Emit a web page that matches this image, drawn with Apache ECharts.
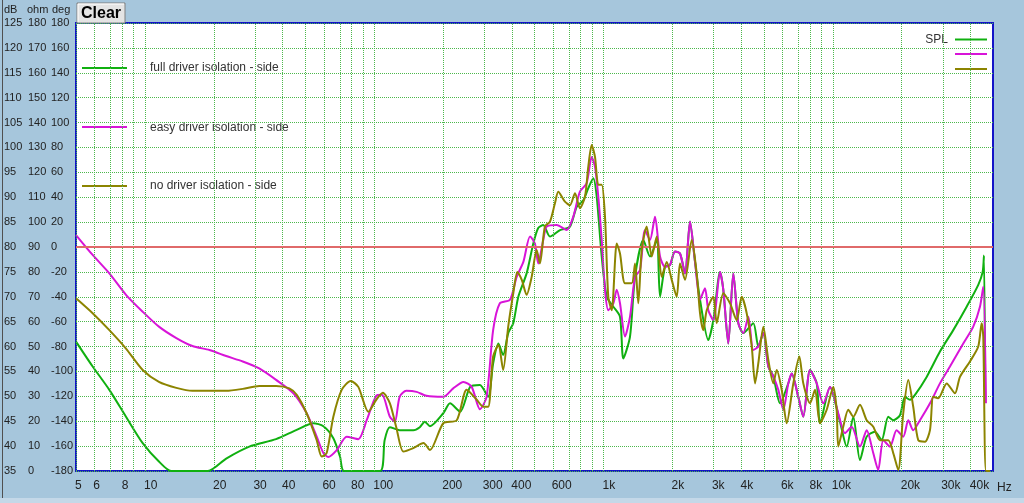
<!DOCTYPE html>
<html>
<head>
<meta charset="utf-8">
<script src="https://cdn.jsdelivr.net/npm/echarts@6/dist/echarts.min.js"></script>
<style>
html,body{margin:0;padding:0;background:#a6c6dc;}
#chart{width:1024px;height:503px;}
</style>
</head>
<body>
<div id="chart"></div>
<script>
// ---- tick labels / grid ----
const xLabelFreqs = [5,6,8,10,20,30,40,60,80,100,200,300,400,600,1000,2000,3000,4000,6000,8000,10000,20000,30000,40000];
const xGridFreqs = [5,6,7,8,9,10,20,30,40,50,60,70,80,90,100,200,300,400,500,600,700,800,900,1000,2000,3000,4000,5000,6000,7000,8000,9000,10000,20000,30000,40000];
const seriesNames = ['full driver isolation - side','easy driver isolation - side','no driver isolation - side'];

// ---- full driver isolation (green) ----
const fullFreq = [5.0,5.91,6.99,8.26,9.77,11.5,13.0,18.8,22.6,28.5,37.3,45.6,54.2,60.0,66.3,70.9,73.8,106,111,117,129,148,158,166,175,200,214,237,262,289,314,330,348,365,384,404,425,462,494,519,546,584,646,714,764,816,858,902,934,982,1033,1104,1180,1220,1305,1372,1492,1595,1707,1764,1855,1950,2050,2156,2267,2384,2507,2636,2865,3013,3223,3331,3502,3682,3873,4072,4502,4733,4979,5235,5504,5888,6399,6621,7074,7439,7958,8511,8800,9728,10750,11500,12290,13140,14060,15280,16340,17460,18360,19640,20650,21710,22840,25680,29350,33540,38380,43120,45070,45660,46260];
const fullDb = [61.0,56.0,51.3,45.9,40.6,36.9,35,35,37.5,39.9,41.4,43.2,44.6,44.0,41.6,37.9,35,35,41.2,43.8,43.2,43.2,43.8,44.9,44.0,46.6,48.6,46.9,51.9,52.3,49.9,56.6,60.6,58.3,62.7,64.7,70.0,74.7,80.7,83.8,84.4,82.1,83.4,84.1,88.1,89.4,91.8,93.8,90.1,78.1,70.0,68.0,66.0,57.6,62.0,74.0,81.4,78.1,81.4,70.0,76.0,76.4,79.1,78.7,74.7,85.1,77.0,69.4,61.3,65.3,75.0,71.4,60.6,74.7,64.7,62.7,64.7,60.0,62.7,56.0,54.0,48.6,52.6,54.6,49.9,45.9,55.3,52.6,44.6,51.9,44.9,39.9,45.9,37.2,41.9,42.9,41.2,45.9,45.2,46.2,49.9,49.3,50.3,53.9,59.0,63.3,68.0,72.4,75.0,78.3,49.3];

// ---- easy driver isolation (magenta) ----
const easyFreq = [5.0,5.91,6.99,8.26,9.77,11.5,13.7,16.1,19.1,22.6,26.7,31.5,37.3,44.4,50.7,56.1,60.0,63.0,68.6,75.8,85.2,92.7,102,108,117,123,129,138,153,169,200,221,245,266,289,309,330,353,391,418,447,478,502,519,546,565,625,691,738,789,844,888,918,949,982,1015,1049,1104,1142,1180,1241,1305,1372,1443,1517,1595,1677,1764,1855,1950,2050,2156,2267,2384,2507,2636,2771,2865,3013,3223,3331,3502,3682,3873,4072,4281,4502,4733,4979,5235,5504,5788,6085,6399,6621,7074,7439,7958,8511,9096,9728,10570,11300,12090,13140,14060,15020,15790,16610,17760,18990,20300,21350,22440,24010,26550,29350,32450,37090,41010,43860,45340,46590];
const easyDb = [82.4,78.4,74.7,70.4,67.0,64.0,61.7,60.1,59.3,58.1,57.0,55.6,53.3,50.6,46.6,41.9,38.6,37.8,39.2,41.9,41.4,45.2,50.1,50.3,45.9,44.9,49.9,51.1,50.9,50.1,49.9,51.6,52.9,51.9,47.4,49.9,63.3,68.7,69.4,74.0,77.0,82.1,80.7,76.7,81.4,84.1,84.4,83.4,86.1,91.1,92.8,98.1,96.1,90.1,81.4,71.4,67.3,68.7,71.4,68.7,62.0,66.0,74.0,75.4,83.4,81.4,86.1,78.1,76.0,76.4,79.1,78.7,74.7,85.1,77.0,69.4,71.7,67.3,65.3,75.0,71.4,60.6,74.7,64.7,62.7,66.0,59.3,60.0,62.7,56.0,54.0,51.3,47.3,52.6,54.6,49.9,45.9,55.3,52.6,48.6,51.9,46.6,42.6,43.9,39.9,43.2,38.6,35.2,41.2,39.9,43.2,41.9,45.2,43.2,45.2,48.6,52.6,56.0,60.6,64.0,68.0,72.0,48.6];

// ---- no driver isolation (olive) ----
const noFreq = [5.0,5.91,6.99,8.26,9.77,11.5,13.7,16.1,19.1,22.6,26.7,31.5,37.3,42.6,45.9,50.7,56.1,59.0,62.0,66.3,72.1,78.9,85.2,94.2,102,109,117,125,134,148,164,175,200,229,253,280,299,314,330,348,365,384,404,421,440,462,486,511,528,555,584,614,635,679,714,751,789,830,858,888,918,949,982,1015,1049,1086,1142,1180,1241,1327,1372,1418,1468,1543,1623,1707,1794,1887,1984,2086,2156,2267,2425,2550,2636,2725,2819,3013,3117,3331,3563,3811,4007,4213,4432,4581,4733,4979,5235,5504,5695,5989,6297,6729,7147,7439,7958,8367,8800,9410,10050,10400,10570,11110,11690,12290,13140,14060,15020,16070,17460,18360,19310,20300,21350,22440,23600,25250,26550,27440,28850,31390,34120,35880,39670,43120,44620,45340,46590,48500];
const noDb = [69.7,66.7,63.3,59.6,55.3,52.9,51.7,51.1,51.1,51.1,51.5,52.1,52.1,51.6,50.3,46.6,41.2,37.9,38.6,45.9,51.3,53.1,51.9,46.9,49.3,50.7,48.6,43.6,38.9,39.6,40.6,39.2,44.6,45.2,51.3,49.3,47.9,47.9,58.0,60.3,55.3,64.0,70.7,75.0,73.4,70.4,74.0,79.4,76.7,84.1,85.1,88.8,91.1,89.1,88.4,90.8,87.8,90.1,96.1,100.5,98.1,92.5,92.5,86.1,70.0,67.3,80.7,78.7,72.7,72.7,76.7,68.7,79.4,84.1,78.1,82.1,74.0,77.0,73.4,70.0,76.7,73.4,81.4,74.7,66.7,63.3,67.3,70.0,64.7,70.7,68.7,65.3,70.0,66.7,60.0,52.6,56.6,64.0,57.3,52.6,55.3,51.3,44.6,52.6,58.0,52.6,48.6,51.3,44.6,47.3,51.9,47.3,39.9,43.9,47.3,45.9,48.3,45.2,43.9,41.2,41.2,38.6,35.2,46.6,53.3,47.9,41.2,40.9,43.2,49.9,49.6,52.6,50.6,53.9,57.0,60.0,64.7,62.0,35,35];

const toXY = (fs, ds) => fs.map((f, i) => [Math.log10(f), ds[i]]);
const fmtHz = v => { const f = Math.round(Math.pow(10, v)); return f >= 1000 ? (f / 1000) + 'k' : String(f); };

const chart = echarts.init(document.getElementById('chart'));
const FONT = 'Liberation Sans';
const gridColor = '#4cb84c';
const colors = ['#10b010', '#d814d8', '#8c8400'];

const yCommon = {
  type: 'value', position: 'left', offset: 0,
  axisLine: {show: false}, axisTick: {show: false},
  splitLine: {show: false}
};

const option = {
  backgroundColor: '#a6c6dc',
  animation: false,
  grid: {left: 76, right: 31, top: 23, bottom: 32, show: true, backgroundColor: '#ffffff', borderColor: '#1414c8', borderWidth: 2},
  xAxis: {
    type: 'value', min: Math.log10(5), max: Math.log10(50000),
    axisLine: {show: false}, axisTick: {show: false}, splitLine: {show: false},
    axisLabel: {customValues: xLabelFreqs.map(f => Math.log10(f)), formatter: fmtHz, align: 'left', margin: 9,
      fontFamily: FONT, fontSize: 12, color: '#222', padding: [0, 0, 0, -1]}
  },
  yAxis: [
    Object.assign({}, yCommon, {min: 35, max: 125, interval: 5,
      splitLine: {show: true, lineStyle: {color: gridColor, type: 'dotted', width: 1}},
      axisLabel: {align: 'left', margin: 72, fontFamily: FONT, fontSize: 11, color: '#222', padding: [0, 0, 4, 0]}}),
    Object.assign({}, yCommon, {min: 0, max: 180, interval: 10,
      axisLabel: {align: 'left', margin: 48, fontFamily: FONT, fontSize: 11, color: '#222', padding: [0, 0, 4, 0]}}),
    Object.assign({}, yCommon, {min: -180, max: 180, interval: 20,
      axisLabel: {align: 'left', margin: 25, fontFamily: FONT, fontSize: 11, color: '#222', padding: [0, 0, 4, 0]}})
  ],
  series: [
    {
      type: 'line', name: 'grid', data: [], silent: true, z: 1,
      markLine: {
        silent: true, symbol: 'none', animation: false, label: {show: false},
        data: xGridFreqs.map(f => ({xAxis: Math.log10(f), lineStyle: {color: gridColor, type: 'dotted', width: 1}}))
          .concat([{yAxis: 80, lineStyle: {color: '#e06a6a', type: 'solid', width: 2}}])
      }
    },
    {type: 'line', name: seriesNames[0], data: toXY(fullFreq, fullDb), showSymbol: false, z: 3, smooth: 0.25,
      lineStyle: {color: colors[0], width: 2}, itemStyle: {color: colors[0]}},
    {type: 'line', name: seriesNames[1], data: toXY(easyFreq, easyDb), showSymbol: false, z: 4, smooth: 0.25,
      lineStyle: {color: colors[1], width: 2}, itemStyle: {color: colors[1]}},
    {type: 'line', name: seriesNames[2], data: toXY(noFreq, noDb), showSymbol: false, z: 5, smooth: 0.25,
      lineStyle: {color: colors[2], width: 2}, itemStyle: {color: colors[2]}}
  ],
  graphic: [
    {type: 'rect', shape: {x: 2, y: 0, width: 1, height: 503}, style: {fill: '#505050'}, silent: true},
    {type: 'rect', shape: {x: 0, y: 498, width: 1024, height: 5}, style: {fill: '#c4d8e8'}, silent: true},
    {type: 'text', x: 4, y: 10, style: {text: 'dB', fontFamily: FONT, fontSize: 11, fill: '#222', verticalAlign: 'middle'}},
    {type: 'text', x: 27, y: 10, style: {text: 'ohm', fontFamily: FONT, fontSize: 11, fill: '#222', verticalAlign: 'middle'}},
    {type: 'text', x: 52, y: 10, style: {text: 'deg', fontFamily: FONT, fontSize: 11, fill: '#222', verticalAlign: 'middle'}},
    {type: 'rect', shape: {x: 77, y: 3, width: 48, height: 20}, style: {fill: '#e4e4e4', stroke: '#808080', lineWidth: 1}},
    {type: 'polyline', shape: {points: [[78, 22], [78, 4], [124, 4]]}, style: {stroke: '#ffffff', lineWidth: 1, fill: null}},
    {type: 'text', x: 101, y: 13.5, style: {text: 'Clear', fontFamily: FONT, fontSize: 16, fontWeight: 'bold', fill: '#000', align: 'center', verticalAlign: 'middle'}},
    {type: 'text', x: 997, y: 488, style: {text: 'Hz', fontFamily: FONT, fontSize: 12, fill: '#222', verticalAlign: 'middle'}},
    // left legend
    {type: 'line', shape: {x1: 82, y1: 68, x2: 127, y2: 68}, style: {stroke: colors[0], lineWidth: 2}},
    {type: 'text', x: 150, y: 68, style: {text: seriesNames[0], fontFamily: FONT, fontSize: 12, fill: '#333', verticalAlign: 'middle'}},
    {type: 'line', shape: {x1: 82, y1: 127, x2: 127, y2: 127}, style: {stroke: colors[1], lineWidth: 2}},
    {type: 'text', x: 150, y: 128, style: {text: seriesNames[1], fontFamily: FONT, fontSize: 12, fill: '#333', verticalAlign: 'middle'}},
    {type: 'line', shape: {x1: 82, y1: 186, x2: 127, y2: 186}, style: {stroke: colors[2], lineWidth: 2}},
    {type: 'text', x: 150, y: 186, style: {text: seriesNames[2], fontFamily: FONT, fontSize: 12, fill: '#333', verticalAlign: 'middle'}},
    // right legend
    {type: 'text', x: 948, y: 40, style: {text: 'SPL', fontFamily: FONT, fontSize: 12, fill: '#333', align: 'right', verticalAlign: 'middle'}},
    {type: 'line', shape: {x1: 955, y1: 39.5, x2: 987, y2: 39.5}, style: {stroke: colors[0], lineWidth: 2}},
    {type: 'line', shape: {x1: 955, y1: 54, x2: 987, y2: 54}, style: {stroke: colors[1], lineWidth: 2}},
    {type: 'line', shape: {x1: 955, y1: 69, x2: 987, y2: 69}, style: {stroke: colors[2], lineWidth: 2}}
  ]
};
chart.setOption(option);
</script>
</body>
</html>
